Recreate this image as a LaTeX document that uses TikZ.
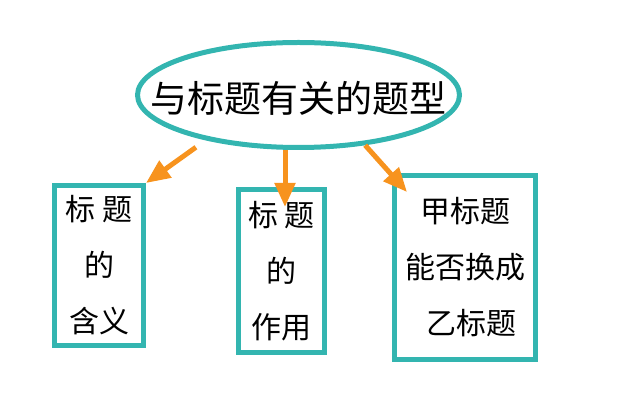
\documentclass[tikz,border=0pt]{standalone}
\usepackage{fontspec}
\setmainfont{Noto Sans CJK SC}
\usepackage{tikz}
\usetikzlibrary{positioning,arrows.meta,shapes.geometric}
\definecolor{TopicTeal}{HTML}{33B5B0}
\definecolor{PointerOrange}{HTML}{F7931E}

\begin{document}
\begin{tikzpicture}[
  x=1pt,y=-1pt,
  topic/.style={ellipse,draw=TopicTeal,line width=5pt,
                inner xsep=-40pt,inner ysep=12pt,
                minimum width=322pt,minimum height=105pt,
                font=\fontsize{37}{40}\selectfont},
  card/.style={draw=TopicTeal,line width=5pt,inner sep=0pt,align=center,
               font=\fontsize{30}{56}\selectfont},
  pointer/.style={-{Triangle[length=24pt,width=20pt]},line width=5pt,
                  draw=PointerOrange,fill=PointerOrange}
]
\useasboundingbox (0,0) rectangle (640,419);

% Question type in the middle
\node[topic,text height=38pt] (topic) at (298.5,95) {与标题有关的题型};

% Three kinds of questions
\node[card,minimum width=89pt,minimum height=160pt] (meaning) at (99,265.5)
  {标 题\\的\\含义};
\node[card,minimum width=86pt,minimum height=163pt] (role) at (281.5,271)
  {标 题\\的\\作用};
\node[card,minimum width=141pt,minimum height=184pt] (swap) at (465,267.5)
  {甲标题\\能否换成\\\hspace{12pt}乙标题};

\draw[pointer,shorten <=12pt] (topic.206) -- (meaning.north east);
\draw[pointer] ([xshift=-13.5pt]topic.south) -- ([xshift=3.5pt,yshift=-20pt]role.north);
\draw[pointer] (topic.323) -- ([xshift=15pt,yshift=-19pt]swap.north west);
\end{tikzpicture}
\end{document}
